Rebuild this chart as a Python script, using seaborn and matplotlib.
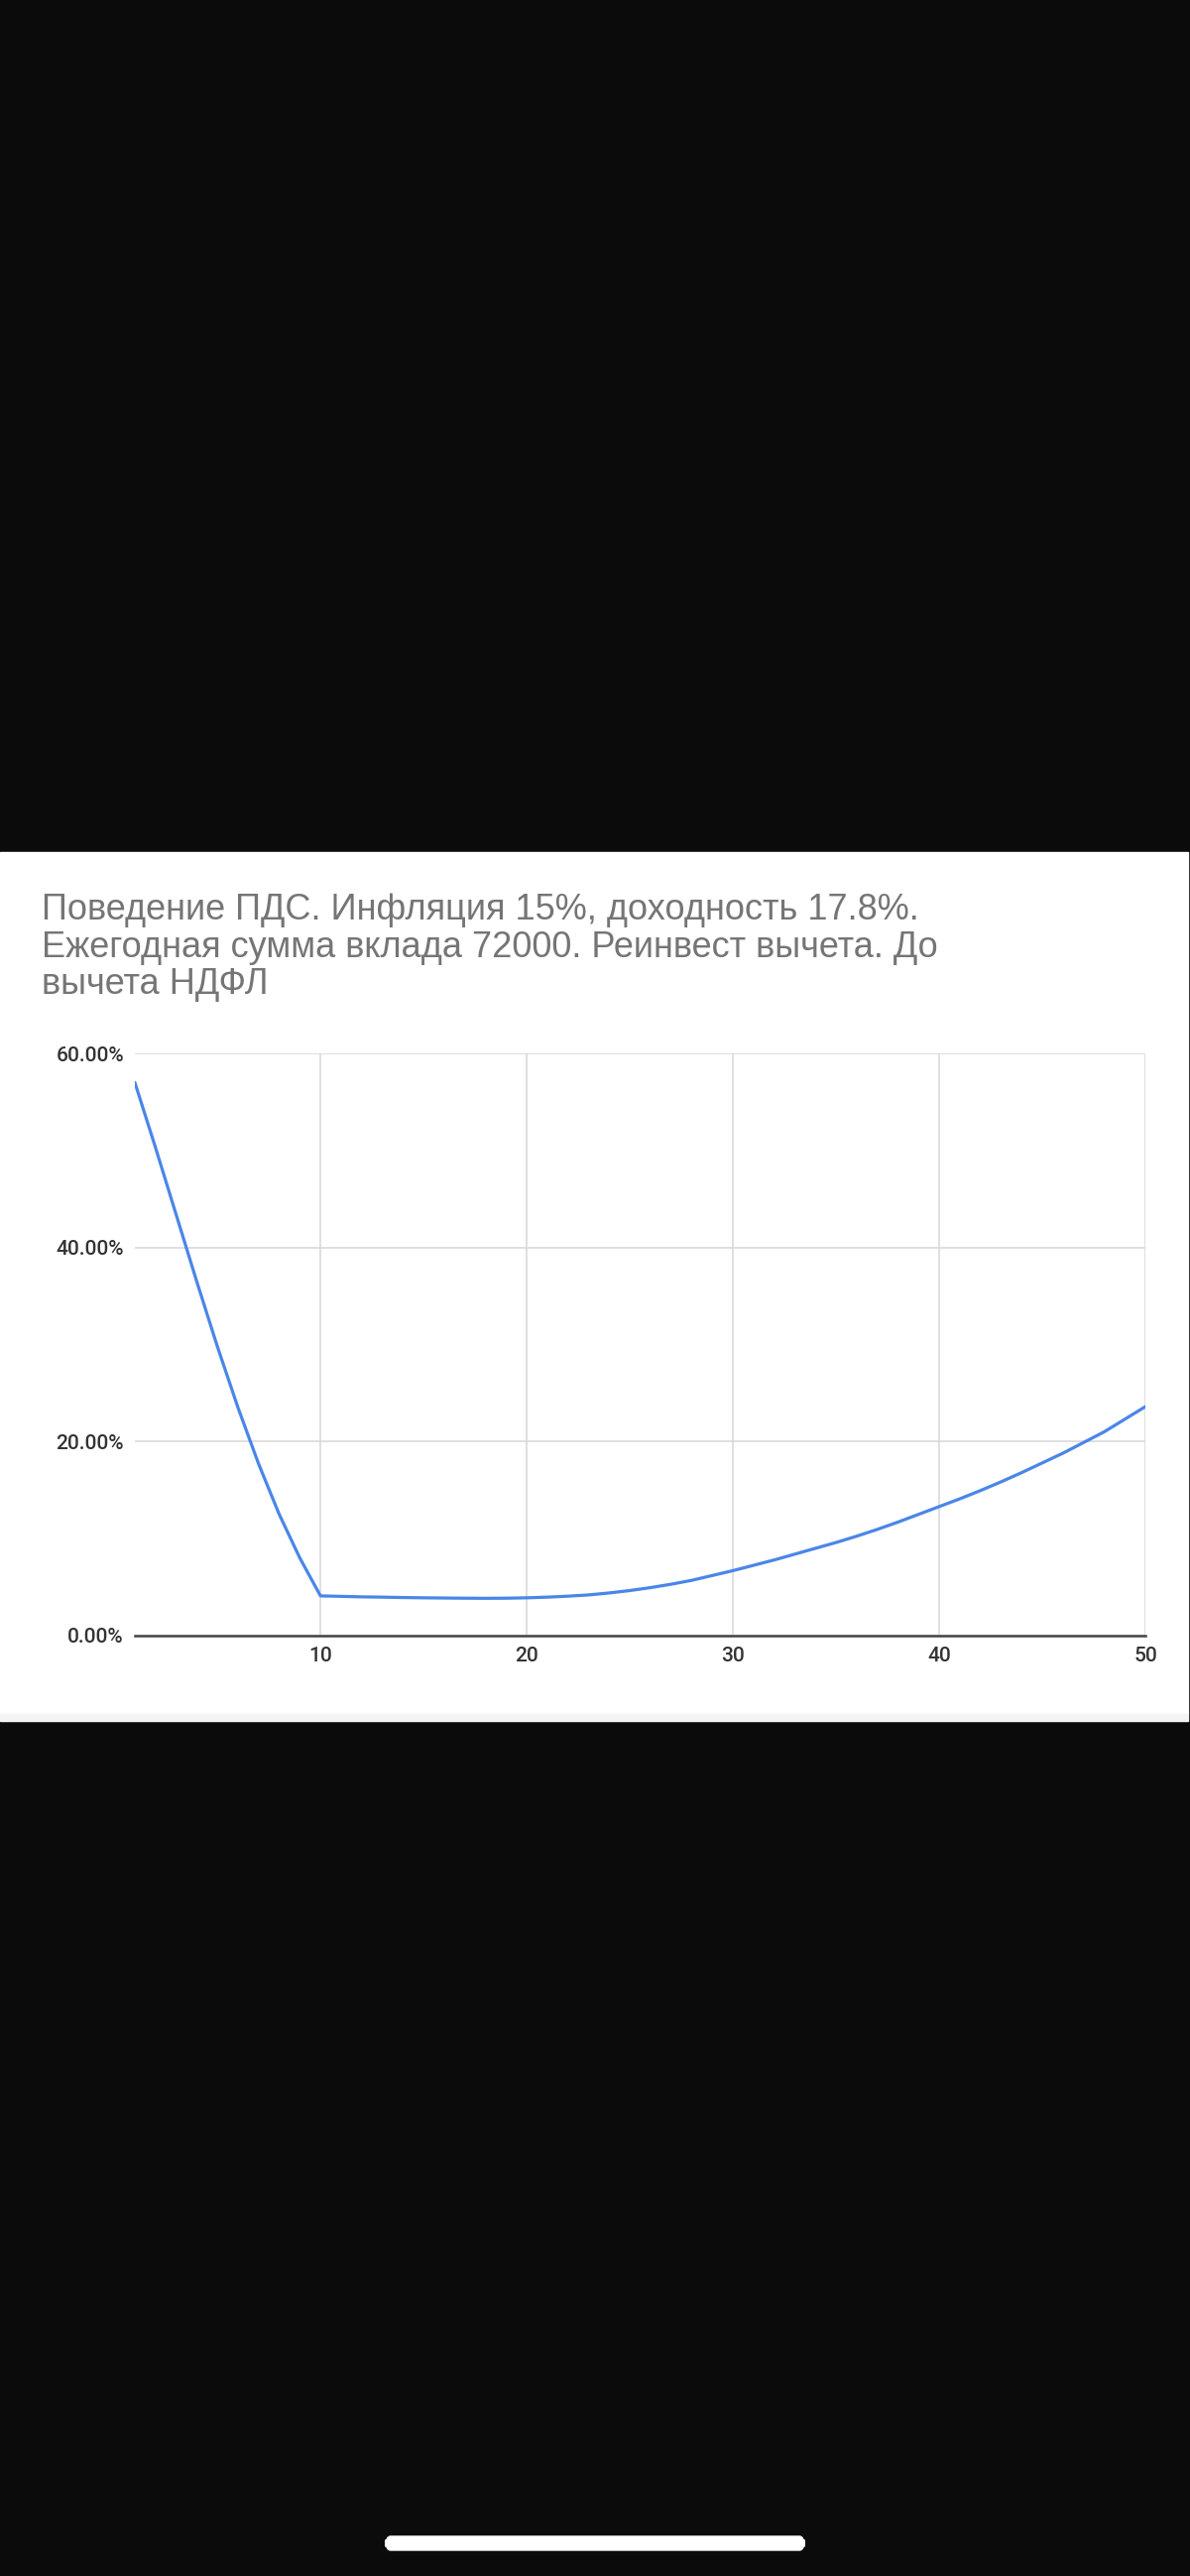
import numpy as np
import pandas as pd
import matplotlib
matplotlib.use("Agg")
import matplotlib.pyplot as plt
from matplotlib.patches import Rectangle, FancyBboxPatch
import seaborn as sns

years = list(range(1, 51))
share = [57.0, 50.3, 43.4, 36.5, 29.8, 23.5, 17.7, 12.5, 8.0, 4.1,
         4.05, 4.0, 3.97, 3.93, 3.9, 3.88, 3.86, 3.85, 3.86, 3.9,
         3.97, 4.07, 4.2, 4.4, 4.65, 4.95, 5.3, 5.7, 6.2, 6.7,
         7.25, 7.8, 8.4, 9.0, 9.6, 10.25, 10.95, 11.7, 12.5, 13.3,
         14.1, 14.95, 15.85, 16.8, 17.8, 18.8, 19.9, 21.0, 22.3, 23.6]
title = ("Поведение ПДС. Инфляция 15%, доходность 17.8%.\n"
         "Ежегодная сумма вклада 72000. Реинвест вычета. До\n"
         "вычета НДФЛ")

df = pd.DataFrame({"year": years, "share": share})

sns.set_style("white")
plt.rcParams['font.family'] = ['Liberation Sans', 'DejaVu Sans']

W, H = 1200, 2597
fig = plt.figure(figsize=(W / 100, H / 100), dpi=100, facecolor="#0b0b0b")

# white card
fig.patches.append(Rectangle((0, 1 - 1728 / H), 1198 / W, (1728 - 859) / H,
                             transform=fig.transFigure, color="white", zorder=0))
fig.patches.append(Rectangle((0, 1 - 1735 / H), 1198 / W, 7 / H,
                             transform=fig.transFigure, color="#f4f4f4", zorder=0))
# home indicator
fig.patches.append(FancyBboxPatch((389 / W, 1 - 2571 / H), 422 / W, 14 / H,
                                  boxstyle="round,pad=0,rounding_size=0.004",
                                  transform=fig.transFigure, color="white"))

ax = fig.add_axes([136 / W, 1 - 1649 / H, (1155 - 136) / W, (1649 - 1062) / H])
ax.set_zorder(5)
ax.set_facecolor("white")
sns.lineplot(data=df, x="year", y="share", ax=ax, color="#4a86e8", linewidth=2.3)

ax.set_xlim(1, 50)
ax.set_ylim(0, 60)
ax.set_xticks([10, 20, 30, 40, 50])
ax.set_yticks([0, 20, 40, 60])
ax.set_yticklabels([f"{v:.2f}%" for v in [0, 20, 40, 60]])
ax.grid(True, color="#d9d9d9", linewidth=1.2)
for s in ["top", "right", "left"]:
    ax.spines[s].set_visible(False)
ax.spines["bottom"].set_color("#444444")
ax.spines["bottom"].set_linewidth(1.8)
ax.tick_params(length=0, labelsize=15, colors="#333333", pad=8)
for lab in ax.get_xticklabels() + ax.get_yticklabels():
    lab.set_family(['Roboto', 'DejaVu Sans'])
    lab.set_fontweight("medium")
ax.set_xlabel("")
ax.set_ylabel("")

fig.text(42 / W, 1 - 900 / H, title, fontsize=26, color="#757575",
         va="top", ha="left", linespacing=1.1, zorder=5)

fig.savefig("out.png", dpi=100, facecolor=fig.get_facecolor())
